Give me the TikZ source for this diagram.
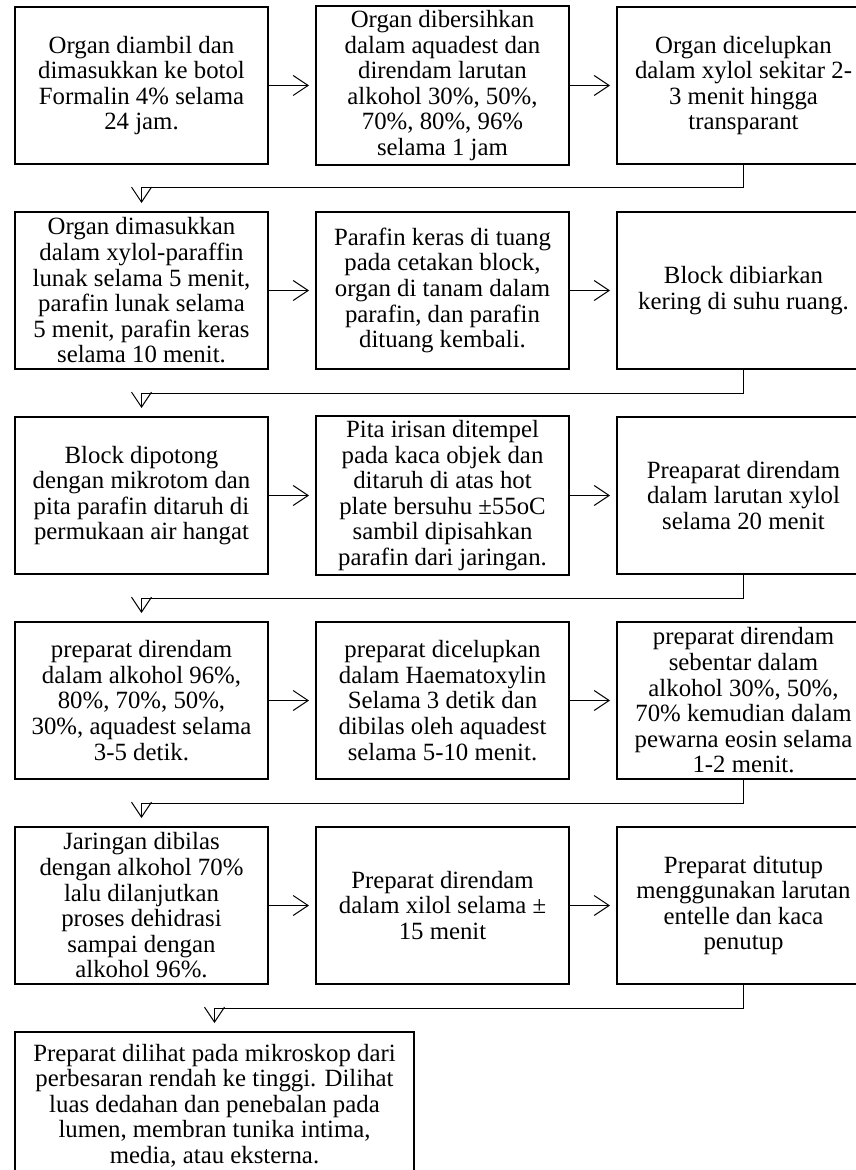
\documentclass[tikz,border=0pt]{standalone}
\usepackage{fontspec}
\setmainfont{Liberation Serif}
\usepackage{xcolor}
\definecolor{cLine}{HTML}{000000}
\usepackage{tikz}
\usetikzlibrary{positioning,arrows.meta}
\tikzset{
  node-step/.style={draw=cLine,line width=1pt,minimum width=126.5pt,
    minimum height=78.5pt,align=center,inner sep=2pt,
    font=\fontsize{12.4}{12.8}\selectfont},
  node-last/.style={minimum width=199.5pt,minimum height=73.5pt},
  arrow/.style={-{Straight Barb[length=7.5pt,width=10pt]},line width=0.5pt,
    draw=cLine,shorten >=3pt},
  arrow-turn/.style={arrow,shorten >=4pt},
}
\begin{document}
\begin{tikzpicture}[node distance=23pt and 23pt]
  \useasboundingbox (0,0) rectangle (427.5pt,-585pt);
  % baris 1
  \node[node-step,anchor=north west] (r1a) at (7pt,-3pt)
    {Organ diambil dan\\dimasukkan ke botol\\Formalin 4\% selama\\24 jam.};
  \node[node-step,right=of r1a] (r1b)
    {Organ dibersihkan\\dalam aquadest dan\\direndam larutan\\alkohol 30\%, 50\%,\\70\%, 80\%, 96\%\\selama 1 jam};
  \node[node-step,right=of r1b] (r1c)
    {Organ dicelupkan\\dalam xylol sekitar 2-\\3 menit hingga\\transparant};
  % baris 2
  \node[node-step,below=of r1a] (r2a)
    {Organ dimasukkan\\dalam xylol-paraffin\\lunak selama 5 menit,\\parafin lunak selama\\5 menit, parafin keras\\selama 10 menit.};
  \node[node-step,right=of r2a] (r2b)
    {Parafin keras di tuang\\pada cetakan block,\\organ di tanam dalam\\parafin, dan parafin\\dituang kembali.};
  \node[node-step,right=of r2b] (r2c)
    {Block dibiarkan\\kering di suhu ruang.};
  % baris 3
  \node[node-step,below=of r2a] (r3a)
    {Block dipotong\\dengan mikrotom dan\\pita parafin ditaruh di\\permukaan air hangat};
  \node[node-step,right=of r3a] (r3b)
    {Pita irisan ditempel\\pada kaca objek dan\\ditaruh di atas hot\\plate bersuhu ±55oC\\sambil dipisahkan\\parafin dari jaringan.};
  \node[node-step,right=of r3b] (r3c)
    {Preaparat direndam\\dalam larutan xylol\\selama 20 menit};
  % baris 4
  \node[node-step,below=of r3a] (r4a)
    {preparat direndam\\dalam alkohol 96\%,\\80\%, 70\%, 50\%,\\30\%, aquadest selama\\3-5 detik.};
  \node[node-step,right=of r4a] (r4b)
    {preparat dicelupkan\\dalam Haematoxylin\\Selama 3 detik dan\\dibilas oleh aquadest\\selama 5-10 menit.};
  \node[node-step,right=of r4b] (r4c)
    {preparat direndam\\sebentar dalam\\alkohol 30\%, 50\%,\\70\% kemudian dalam\\pewarna eosin selama\\1-2 menit.};
  % baris 5
  \node[node-step,below=of r4a] (r5a)
    {Jaringan dibilas\\dengan alkohol 70\%\\lalu dilanjutkan\\proses dehidrasi\\sampai dengan\\alkohol 96\%.};
  \node[node-step,right=of r5a] (r5b)
    {Preparat direndam\\dalam xilol selama ±\\15 menit};
  \node[node-step,right=of r5b] (r5c)
    {Preparat ditutup\\menggunakan larutan\\entelle dan kaca\\penutup};
  % hasil akhir
  \node[node-step,node-last,below right=23pt and 0pt of r5a.south west] (r6)
    {Preparat dilihat pada mikroskop dari\\perbesaran rendah ke tinggi. Dilihat\\luas dedahan dan penebalan pada\\lumen, membran tunika intima,\\media, atau eksterna.};
  % panah
  \foreach \r in {1,...,5}{
    \draw[arrow] (r\r a) -- (r\r b);
    \draw[arrow] (r\r b) -- (r\r c);
  }
  \foreach \r/\n in {1/2,2/3,3/4,4/5}{
    \draw[arrow-turn] (r\r c.south) -- ++(0,-11.5pt) -| (r\n a.north);
  }
  \draw[arrow-turn] (r5c.south) -- ++(0,-11.5pt) -| (r6.north);
\end{tikzpicture}
\end{document}
